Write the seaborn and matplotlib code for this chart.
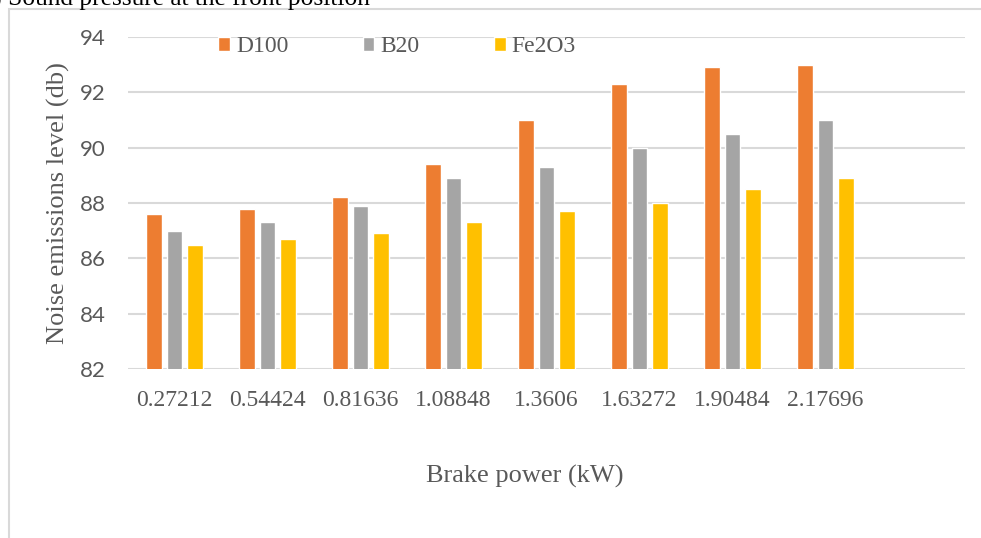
import numpy as np
import pandas as pd
import matplotlib
matplotlib.use("Agg")
import matplotlib.pyplot as plt
from matplotlib.patches import Rectangle
import seaborn as sns

categories = ["0.27212", "0.54424", "0.81636", "1.08848", "1.3606", "1.63272", "1.90484", "2.17696"]
d100 = [87.6, 87.8, 88.2, 89.4, 91.0, 92.3, 92.9, 93.0]
b20 = [87.0, 87.3, 87.9, 88.9, 89.3, 90.0, 90.5, 91.0]
fe2o3 = [86.5, 86.7, 86.9, 87.3, 87.7, 88.0, 88.5, 88.9]
series_names = ["D100", "B20", "Fe2O3"]
colors = ["#ED7D31", "#A5A5A5", "#FFC000"]
yticks = [82, 84, 86, 88, 90, 92, 94]

df = pd.DataFrame({
    "Brake power": categories * 3,
    "value": d100 + b20 + fe2o3,
    "series": [series_names[0]] * 8 + [series_names[1]] * 8 + [series_names[2]] * 8,
})

sns.set_theme(style="white")
serif = ["Liberation Serif", "DejaVu Serif"]
sans = ["Lato", "DejaVu Sans"]

fig = plt.figure(figsize=(9.81, 5.38), dpi=100)
ax = fig.add_axes([128 / 981, 1 - 369 / 538, 837 / 981, 332 / 538])

sns.barplot(data=df, x="Brake power", y="value", hue="series", order=categories,
            hue_order=series_names, palette=colors, width=0.66, gap=0.22,
            saturation=1, ax=ax, legend=True, zorder=3)

ax.set_xlim(-0.5, 8.5)
ax.set_ylim(82, 94)
ax.set_yticks(yticks)
ax.set_yticklabels([str(t) for t in yticks], fontfamily=sans, fontsize=16, color="#595959")
ax.set_xticks(range(len(categories)))
ax.set_xticklabels(categories, fontfamily=serif, fontsize=17, color="#595959")
ax.tick_params(axis="y", length=0, pad=16)
ax.tick_params(axis="x", length=0, pad=15)
ax.grid(axis="y", color="#d9d9d9", linewidth=1.5, zorder=0)
ax.set_axisbelow(True)
for s in ax.spines.values():
    s.set_visible(False)

ax.set_ylabel("Noise emissions level (db)", fontfamily=serif, fontsize=19, color="#595959")
ax.set_xlabel("Brake power (kW)", fontfamily=serif, fontsize=19, color="#595959")
ax.yaxis.set_label_coords(-0.069, 0.5)
ax.xaxis.set_label_coords(0.474, -0.29)

handles, labels = ax.get_legend_handles_labels()
leg = ax.legend(handles, labels, loc="center", bbox_to_anchor=(397 / 981, 1 - 47 / 538),
                bbox_transform=fig.transFigure, ncol=3, frameon=False,
                prop={"family": serif, "size": 17}, handlelength=0.5, handleheight=0.5,
                handletextpad=0.25, columnspacing=3.15, borderpad=0, borderaxespad=0)
for t in leg.get_texts():
    t.set_color("#595959")

# outer chart border (cropped by the image edges)
fig.patches.append(Rectangle((9 / 981, -0.1), 1.2, 1 - 9 / 538 + 0.1, transform=fig.transFigure,
                             fill=False, edgecolor="#d9d9d9", linewidth=1.5, zorder=0))
fig.text(-28 / 981, 1 - 6 / 538, "(b) Sound pressure at the front position", fontfamily=serif,
         fontsize=18.3, color="black", ha="left", va="baseline")

fig.savefig("out.png", dpi=100)
